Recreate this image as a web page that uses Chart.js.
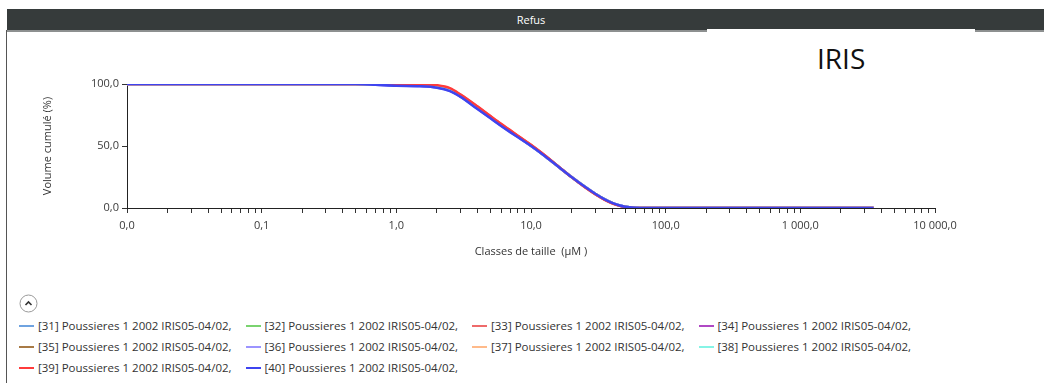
<!DOCTYPE html>
<html><head><meta charset="utf-8">
<script src="https://cdn.jsdelivr.net/npm/chart.js@4"></script>
<style>
body{margin:0;width:1044px;height:383px;background:#fff;position:relative;overflow:hidden;font-family:"Open Sans",sans-serif;}
#hdr{position:absolute;left:7px;top:9px;width:1037px;height:21px;background:#363b3b;}
#hdrtxt{position:absolute;left:431px;width:200px;top:9px;height:21px;line-height:21px;text-align:center;color:#fff;font-size:11px;}
#hdrline{position:absolute;left:7px;top:30px;width:1037px;height:2px;background:#8d9090;}
#hdrwhite{position:absolute;left:707px;top:29px;width:268px;height:3px;background:#fff;}
#lborder{position:absolute;left:6px;top:30px;width:1px;height:353px;background:#555;}
#iris{position:absolute;left:817px;top:44px;font-size:28px;line-height:28px;color:#111;}
#wrap{position:absolute;left:0;top:32px;width:1044px;height:240px;}
#btn{position:absolute;left:19px;top:294px;}
#legend{position:absolute;left:0;top:0;}
.item{position:absolute;height:14px;font-size:11.5px;color:#333;white-space:nowrap;line-height:14px;}
.item span.ln{position:absolute;left:0;top:6px;width:15px;height:2px;}
.item span.tx{position:absolute;left:19px;top:0;}
</style></head>
<body>
<div id="hdr"></div>
<div id="hdrtxt">Refus</div>
<div id="hdrline"></div>
<div id="hdrwhite"></div>
<div id="lborder"></div>
<div id="iris">IRIS</div>
<div id="wrap"><canvas id="c"></canvas></div>
<svg id="btn" width="19" height="19" viewBox="0 0 19 19"><circle cx="9.5" cy="9.5" r="8.5" fill="#fff" stroke="#9a9a9a" stroke-width="1"/><polyline points="6.5,11 9.5,8 12.5,11" fill="none" stroke="#333" stroke-width="1.6"/></svg>
<div id="legend"></div>
<script>
// Particle sizes (µm)
const sizes = [0.01, 0.1, 0.3, 0.5, 0.7, 1, 1.5, 2, 2.5, 3, 4, 5, 6, 7, 8, 10, 12, 15, 20, 25, 30, 35, 40, 45, 50, 60, 70, 100, 300, 1000, 3500];

// Cumulative volume (%) per measurement
const s31 = [100,100,100,99.9,99.6,99.0,98.6,97.5,94.9,90.1,80.6,73.0,66.8,61.9,57.6,50.3,44.0,35.7,25.0,17.3,11.5,7.2,4.2,2.2,1.0,0.2,0,0,0,0,0];
const s32 = [100,100,100,99.9,99.7,99.2,98.8,97.8,95.2,90.5,81.0,73.4,67.1,62.1,57.8,50.5,44.1,35.8,25.0,17.2,11.4,7.1,4.1,2.1,1.0,0.2,0,0,0,0,0];
const s33 = [100,100,100,100,99.9,99.7,99.5,98.6,96.1,91.2,81.7,73.9,67.6,62.5,58.1,50.8,44.3,35.9,24.9,17.0,11.2,6.9,3.9,2.0,0.9,0.1,0,0,0,0,0];
const s34 = [100,100,100,99.9,99.5,98.9,98.5,97.3,94.7,89.9,80.4,72.8,66.6,61.7,57.4,50.2,43.9,35.7,25.0,17.3,11.5,7.2,4.2,2.2,1.0,0.2,0,0,0,0,0];
const s35 = [100,100,100,99.9,99.6,99.1,98.7,97.6,95.0,90.3,80.8,73.2,66.9,62.0,57.7,50.4,44.0,35.7,25.0,17.3,11.4,7.1,4.1,2.1,1.0,0.2,0,0,0,0,0];
const s36 = [100,100,100,99.9,99.4,98.7,98.3,97.1,94.4,89.7,80.1,72.5,66.4,61.4,57.3,50.1,43.9,35.6,25.0,17.3,11.5,7.2,4.2,2.2,1.0,0.2,0,0,0,0,0];
const s37 = [100,100,100,99.9,99.7,99.3,98.9,97.9,95.4,90.7,81.1,73.5,67.2,62.2,57.9,50.6,44.2,35.8,25.0,17.2,11.4,7.0,4.0,2.1,0.9,0.1,0,0,0,0,0];
const s38 = [100,100,100,99.9,99.6,99.0,98.6,97.4,94.8,90.0,80.5,72.9,66.7,61.8,57.5,50.3,44.0,35.7,25.0,17.3,11.5,7.2,4.2,2.2,1.0,0.2,0,0,0,0,0];
const s39 = [100,100,100,100,100,99.9,99.8,99.0,96.6,91.5,82.0,74.2,67.9,62.8,58.3,51.0,44.5,36.0,24.9,16.9,11.1,6.8,3.8,1.9,0.8,0.1,0,0,0,0,0];
const s40 = [100,100,100,99.9,99.4,98.6,98.2,97.0,94.3,89.6,79.8,72.3,66.2,61.2,57.0,50.0,43.8,35.6,25.0,17.3,11.5,7.2,4.2,2.2,1.0,0.2,0,0,0,0,0];

const seriesNames = [
  '[31] Poussieres 1 2002 IRIS05-04/02,', '[32] Poussieres 1 2002 IRIS05-04/02,',
  '[33] Poussieres 1 2002 IRIS05-04/02,', '[34] Poussieres 1 2002 IRIS05-04/02,',
  '[35] Poussieres 1 2002 IRIS05-04/02,', '[36] Poussieres 1 2002 IRIS05-04/02,',
  '[37] Poussieres 1 2002 IRIS05-04/02,', '[38] Poussieres 1 2002 IRIS05-04/02,',
  '[39] Poussieres 1 2002 IRIS05-04/02,', '[40] Poussieres 1 2002 IRIS05-04/02,'
];
const seriesValues = [s31, s32, s33, s34, s35, s36, s37, s38, s39, s40];
const seriesColors = ['#6fa3e0','#7ad36f','#ee6a6a','#b048c4','#a87a45','#9c94ff','#ffba8a','#86f4e6','#ff3b3b','#3e44f0'];

const xMajorTicks = [0.01, 0.1, 1, 10, 100, 1000, 10000];
const yTicks = [0, 50, 100];
const xTitle = 'Classes de taille  (µM )';
const yTitle = 'Volume cumulé (%)';

function fmt(v){
  const s = Number(v).toFixed(1).split('.');
  const ip = s[0].replace(/\B(?=(\d{3})+(?!\d))/g, ' ');
  return ip + ',' + s[1];
}

// Chart.js draws the first dataset on top: put [40] first, then [39], ...
const order = [9,8,7,6,5,4,3,2,1,0];
const datasets = order.map(i => ({
  label: seriesNames[i],
  data: sizes.map((x, k) => ({x: x, y: seriesValues[i][k]})),
  borderColor: seriesColors[i],
  backgroundColor: seriesColors[i],
  borderWidth: 2.5,
  pointRadius: 0,
  fill: false,
  cubicInterpolationMode: 'monotone'
}));

const FONT = {family: '"Open Sans", sans-serif', size: 11};

const chart = new Chart(document.getElementById('c'), {
  type: 'line',
  data: {datasets},
  options: {
    responsive: true,
    maintainAspectRatio: false,
    animation: false,
    layout: {padding: {top: 52, right: 109, left: 0, bottom: 0}},
    plugins: {legend: {display: false}, tooltip: {enabled: false}},
    scales: {
      x: {
        type: 'logarithmic',
        min: 0.01, max: 10000,
        afterBuildTicks: (scale) => {
          const t = [];
          for (let d = 0; d < xMajorTicks.length - 1; d++) {
            for (let m = 1; m < 10; m++) t.push({value: xMajorTicks[d] * m});
          }
          t.push({value: xMajorTicks[xMajorTicks.length - 1]});
          scale.ticks = t;
        },
        afterFit: (scale) => { scale.height = 64; },
        ticks: {
          autoSkip: false, maxRotation: 0, padding: 6, color: '#3a3a3a', font: FONT,
          callback: function(v){
            const isMajor = xMajorTicks.some(m => Math.abs(Math.log10(v) - Math.log10(m)) < 1e-6);
            return isMajor ? fmt(v) : '';
          }
        },
        grid: {display: true, drawOnChartArea: false, drawTicks: true, tickLength: 5, tickColor: '#333', lineWidth: 1},
        border: {display: true, color: '#222', width: 1},
        title: {display: true, text: xTitle, color: '#333', font: FONT, padding: {top: 0, bottom: 14}}
      },
      y: {
        type: 'linear',
        min: 0, max: 100,
        afterBuildTicks: (scale) => { scale.ticks = yTicks.map(v => ({value: v})); },
        afterFit: (scale) => { scale.width = 127; },
        ticks: {padding: 3, color: '#3a3a3a', font: FONT, callback: v => fmt(v)},
        grid: {display: true, drawOnChartArea: false, drawTicks: true, tickLength: 5, tickColor: '#333', lineWidth: 1},
        border: {display: true, color: '#222', width: 1},
        title: {display: true, text: yTitle, color: '#333', font: FONT, padding: {top: 41, bottom: 0}}
      }
    }
  }
});

// HTML legend built from the chart's legend items
const items = Chart.defaults.plugins.legend.labels.generateLabels(chart)
  .sort((a, b) => a.text.localeCompare(b.text));
const leg = document.getElementById('legend');
const colX = [19, 245.5, 472, 698.5];
const rowY = [319, 340, 361];
items.forEach((it, i) => {
  const d = document.createElement('div');
  d.className = 'item';
  d.style.left = colX[i % 4] + 'px';
  d.style.top = rowY[Math.floor(i / 4)] + 'px';
  const ln = document.createElement('span');
  ln.className = 'ln'; ln.style.background = it.strokeStyle;
  const tx = document.createElement('span');
  tx.className = 'tx'; tx.textContent = it.text;
  d.appendChild(ln); d.appendChild(tx);
  leg.appendChild(d);
});
</script>
</body></html>
